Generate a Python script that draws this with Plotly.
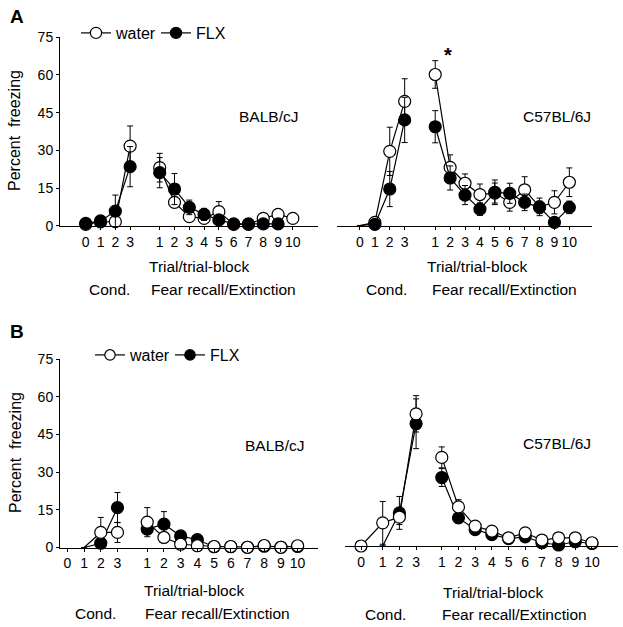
import plotly.graph_objects as go

W, H = 623, 627

# tick labels
cond_labels = ['0', '1', '2', '3']
recall_labels = ['1', '2', '3', '4', '5', '6', '7', '8', '9', '10']

# A, BALB/cJ
balb_a_water_cond = [0.5, 1.5, 1.6, 31.7]
balb_a_water_cond_err = [0, 0, 1, 8]
balb_a_water_rec = [23.1, 9.3, 3.6, 2.9, 5.6, 0.5, 0.5, 2.9, 4.5, 2.9]
balb_a_water_rec_err = [5.7, 2, 1, 1, 4, 0.5, 0.5, 1, 1.5, 1]
balb_a_flx_cond = [0.9, 1.9, 5.8, 23.5]
balb_a_flx_cond_err = [0.5, 0.5, 6.4, 8]
balb_a_flx_rec = [21.1, 14.6, 7.3, 4.5, 2.3, 0.7, 0.7, 0.7, 0.7, None]
balb_a_flx_rec_err = [6, 6.2, 2.9, 2.4, 1.5, 0.3, 0.3, 0.3, 0.3, 0]

# A, C57BL/6J
c57_a_water_cond = [0, 1.3, 29.6, 49.5]
c57_a_water_cond_err = [0, 0.5, 9.6, 9]
c57_a_water_rec = [60.2, 23.2, 16.9, 12.4, 13.0, 9.3, 14.3, 7.5, 9.3, 17.3]
c57_a_water_rec_err = [5.5, 5, 3.7, 4.2, 4, 3.5, 5.2, 3.5, 4.6, 5.7]
c57_a_flx_cond = [0, 0.5, 14.6, 42.1]
c57_a_flx_cond_err = [0, 0.3, 7, 9]
c57_a_flx_rec = [39.4, 19, 12.2, 6.6, 13.3, 12.9, 9.3, 7.3, 1.3, 7.3]
c57_a_flx_rec_err = [6.4, 4.8, 3.8, 2.5, 4.9, 4, 3.3, 2.5, 1, 2.5]

# B, BALB/cJ
balb_b_water_cond = [None, 0, 6.0, 6.0]
balb_b_water_cond_err = [0, 0, 6, 4]
balb_b_water_rec = [10.1, 4.0, 1.3, 0.7, 0.4, 0.4, 0.1, 0.8, 0.1, 0.7]
balb_b_water_rec_err = [5.8, 1.5, 1, 0.5, 0.3, 0.3, 0.2, 0.5, 0.2, 0.5]
balb_b_flx_cond = [None, 0, 1.7, 15.9]
balb_b_flx_cond_err = [0, 0, 1, 6]
balb_b_flx_rec = [7.3, 9.3, 4.6, 3.1, 0.3, 0.3, 0.1, 0.5, 0.1, 0.4]
balb_b_flx_rec_err = [2, 5, 1.5, 1, 0.3, 0.3, 0.1, 0.3, 0.1, 0.3]

# B, C57BL/6J
c57_b_water_cond = [0, 9.3, 11.6, 53.1]
c57_b_water_cond_err = [0, 8.6, 3, 7.3]
c57_b_water_rec = [35.6, 15.7, 8.0, 6.0, 3.3, 5.3, 2.4, 3.3, 3.3, 1.3]
c57_b_water_rec_err = [4.2, 2.9, 1.5, 1.2, 1, 1.5, 1, 1, 1, 0.5]
c57_b_flx_cond = [None, 0, 13.3, 49.1]
c57_b_flx_cond_err = [0, 0, 6.6, 10]
c57_b_flx_rec = [27.5, 11.3, 6.6, 4.6, 3.0, 3.7, 1.3, 0.4, 1.7, 1.0]
c57_b_flx_rec_err = [3.6, 2, 1.2, 1, 0.8, 1, 0.6, 0.4, 0.6, 0.4]

FONT = 'Liberation Sans, Arial, sans-serif'


def px_x(p):
    return p / W


def px_y(p):
    return 1 - p / H


# panel layout: pixel box, x range, position of conditioning trials, gap before recall
panels = [
    dict(name='A-left', x0=60, x1=318, y0=225.7, y1=37.3, xr=[-1.74, 15.7],
         cond_pos=[0, 1, 2, 3], gap=2, yaxis=True, legend='legend',
         water=(balb_a_water_cond, balb_a_water_cond_err, balb_a_water_rec, balb_a_water_rec_err),
         flx=(balb_a_flx_cond, balb_a_flx_cond_err, balb_a_flx_rec, balb_a_flx_rec_err),
         hide_water=[], hide_flx=[], flx_on_top=True),
    dict(name='A-right', x0=337, x1=592, y0=225.7, y1=37.3, xr=[-1.54, 15.57],
         cond_pos=[0, 1, 2, 3], gap=2.05, yaxis=False, legend='legend',
         water=(c57_a_water_cond, c57_a_water_cond_err, c57_a_water_rec, c57_a_water_rec_err),
         flx=(c57_a_flx_cond, c57_a_flx_cond_err, c57_a_flx_rec, c57_a_flx_rec_err),
         hide_water=[0], hide_flx=[0], flx_on_top=True),
    dict(name='B-left', x0=60, x1=318, y0=547.5, y1=359.3, xr=[-0.44, 15.0],
         cond_pos=[0, 1, 2, 3], gap=1.78, yaxis=True, legend='legend2',
         water=(balb_b_water_cond, balb_b_water_cond_err, balb_b_water_rec, balb_b_water_rec_err),
         flx=(balb_b_flx_cond, balb_b_flx_cond_err, balb_b_flx_rec, balb_b_flx_rec_err),
         hide_water=[1], hide_flx=[1], flx_on_top=False),
    dict(name='B-right', x0=345, x1=618, y0=546, y1=359.3, xr=[-1.26, 15.1],
         cond_pos=[-0.3, 1, 2, 3], gap=1.54, yaxis=False, legend='legend2',
         water=(c57_b_water_cond, c57_b_water_cond_err, c57_b_water_rec, c57_b_water_rec_err),
         flx=(c57_b_flx_cond, c57_b_flx_cond_err, c57_b_flx_rec, c57_b_flx_rec_err),
         hide_water=[], hide_flx=[1], flx_on_top=False),
]

fig = go.Figure()


def add_group(i, p, series, name, fill, hide, showlegend, rank):
    cond, cond_err, rec, rec_err = series
    rec_pos = [p['cond_pos'][-1] + p['gap'] + k for k in range(len(rec))]
    xs = p['cond_pos'] + [None] + rec_pos
    ys = cond + [None] + rec
    errs = cond_err + [0] + rec_err
    sizes = [0 if k in hide else 12 for k in range(len(cond))] + [0] + [12] * len(rec)
    sfx = '' if i == 0 else str(i + 1)
    fig.add_trace(go.Scatter(
        x=xs, y=ys, mode='lines+markers', name=name,
        xaxis='x' + sfx, yaxis='y' + sfx,
        line=dict(color='black', width=1.2),
        marker=dict(symbol='circle', size=sizes, color=fill, opacity=1,
                    line=dict(color='black', width=1.2)),
        error_y=dict(type='data', array=errs, color='black', thickness=1, width=3),
        cliponaxis=False, connectgaps=False,
        showlegend=showlegend, legend=p['legend'], legendrank=rank,
    ))


for i, p in enumerate(panels):
    first = p['name'] in ('A-left', 'B-left')
    groups = [('water', 'white', p['water'], p['hide_water'], 1),
              ('FLX', 'black', p['flx'], p['hide_flx'], 2)]
    if not p['flx_on_top']:
        groups = groups[::-1]
    for name, fill, series, hide, rank in groups:
        add_group(i, p, series, name, fill, hide, first, rank)

layout = dict(
    width=W, height=H,
    margin=dict(l=0, r=0, t=0, b=0, autoexpand=False),
    paper_bgcolor='white', plot_bgcolor='white',
    font=dict(family=FONT, size=14, color='black'),
)

for i, p in enumerate(panels):
    sfx = '' if i == 0 else str(i + 1)
    rec_pos = [p['cond_pos'][-1] + p['gap'] + k for k in range(len(recall_labels))]
    layout['xaxis' + sfx] = dict(
        domain=[px_x(p['x0']), px_x(p['x1'])], range=p['xr'],
        anchor='y' + sfx, showgrid=False, zeroline=False, automargin=False,
        showline=True, linecolor='black', linewidth=1,
        ticks='outside', ticklen=3, tickcolor='black',
        tickvals=p['cond_pos'] + rec_pos, ticktext=cond_labels + recall_labels,
        tickfont=dict(size=14),
    )
    layout['yaxis' + sfx] = dict(
        domain=[px_y(p['y0']), px_y(p['y1'])], range=[0, 75],
        anchor='x' + sfx, showgrid=False, zeroline=False, automargin=False,
        showline=p['yaxis'], linecolor='black', linewidth=1,
        ticks='outside' if p['yaxis'] else '', ticklen=3, tickcolor='black',
        tickvals=[0, 15, 30, 45, 60, 75], showticklabels=p['yaxis'],
        tickfont=dict(size=14),
    )

layout['legend'] = dict(orientation='h', x=px_x(76), y=px_y(33), xanchor='left', yanchor='middle',
                        font=dict(size=16), itemwidth=30, entrywidth=35, entrywidthmode='pixels',
                        bgcolor='rgba(0,0,0,0)', tracegroupgap=0)
layout['legend2'] = dict(orientation='h', x=px_x(90), y=px_y(355), xanchor='left', yanchor='middle',
                         font=dict(size=16), itemwidth=30, entrywidth=35, entrywidthmode='pixels',
                         bgcolor='rgba(0,0,0,0)', tracegroupgap=0)

fig.update_layout(**layout)

texts = [
    ('A', 17, 17, 19, True), ('B', 17, 331, 19, True),
    ('BALB/cJ', 268, 117, 15.5, False), ('C57BL/6J', 557, 117, 15.5, False),
    ('BALB/cJ', 274, 445, 15.5, False), ('C57BL/6J', 557, 443, 15.5, False),
    ('Trial/trial-block', 199, 266, 15.5, False), ('Cond.', 109, 289, 15.5, False),
    ('Fear recall/Extinction', 223, 289, 15.5, False),
    ('Trial/trial-block', 477, 266, 15.5, False), ('Cond.', 386, 289, 15.5, False),
    ('Fear recall/Extinction', 504, 289, 15.5, False),
    ('Trial/trial-block', 194, 590, 15.5, False), ('Cond.', 95, 613, 15.5, False),
    ('Fear recall/Extinction', 217, 613, 15.5, False),
    ('Trial/trial-block', 493, 592, 15.5, False), ('Cond.', 385, 614, 15.5, False),
    ('Fear recall/Extinction', 514, 614, 15.5, False),
    ('*', 448, 55, 20, True),
]
for t, x, y, s, bold in texts:
    fig.add_annotation(text='<b>%s</b>' % t if bold else t, x=px_x(x), y=px_y(y),
                       xref='paper', yref='paper', showarrow=False,
                       xanchor='center', yanchor='middle', font=dict(size=s, family=FONT))

# y-axis titles, placed like the reference
for y in (131, 453):
    fig.add_annotation(text='Percent  freezing', x=px_x(15), y=px_y(y), xref='paper', yref='paper',
                       showarrow=False, textangle=-90, xanchor='center', yanchor='middle',
                       font=dict(size=16, family=FONT))

fig.write_html("out.html", post_script="document.body.style.margin='0';",
               config={'displayModeBar': False})
